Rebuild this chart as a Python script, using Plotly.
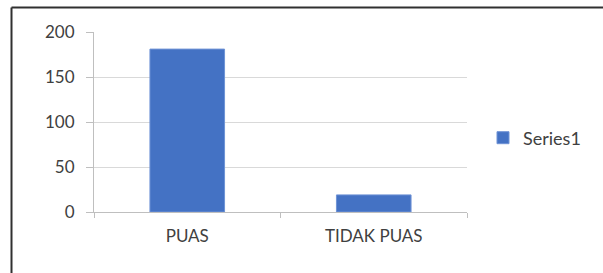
import plotly.graph_objects as go

categories = ["PUAS", "TIDAK PUAS"]
values = [181, 19]
series_name = "Series1"
y_ticks = [0, 50, 100, 150, 200]

W, H = 603, 273
L, R, T, B = 94, 467, 32, 212

def px(x):
    return (x - L) / (R - L)

def py(y):
    return (B - y) / (B - T)

fig = go.Figure()
fig.add_trace(go.Bar(x=categories, y=values, name=series_name,
                     marker=dict(color="#4472C4", line=dict(color="#6f93d6", width=1)),
                     showlegend=True))

font_family = "Lato, Open Sans, sans-serif"
fig.update_layout(
    width=W, height=H,
    margin=dict(l=L, r=W - R, t=T, b=H - B, pad=0),
    paper_bgcolor="white", plot_bgcolor="white",
    bargap=0.6,
    showlegend=True,
    legend=dict(x=px(483), y=py(138), xanchor="left", yanchor="middle",
                font=dict(family=font_family, size=18, color="#404040"),
                itemwidth=30, bgcolor="rgba(0,0,0,0)"),
    xaxis=dict(type="category", showgrid=False, showline=True, linecolor="#bfbfbf",
               linewidth=1, ticks="outside", tickson="boundaries", ticklen=5,
               tickcolor="#bfbfbf", ticklabelstandoff=9,
               tickfont=dict(family=font_family, size=17, color="#404040"),
               fixedrange=True),
    yaxis=dict(range=[0, 200], tickvals=y_ticks, showgrid=True, gridcolor="#d9d9d9",
               gridwidth=1, showline=True, linecolor="#bfbfbf", linewidth=1,
               ticks="outside", ticklen=7, tickcolor="#bfbfbf", ticklabelstandoff=8,
               tickfont=dict(family=font_family, size=17, color="#404040"),
               zeroline=False, fixedrange=True),
    shapes=[
        dict(type="line", xref="paper", yref="paper",
             x0=px(11.5), y0=py(7.5), x1=px(605), y1=py(7.5),
             line=dict(color="#303030", width=2)),
        dict(type="line", xref="paper", yref="paper",
             x0=px(11.5), y0=py(7.5), x1=px(11.5), y1=py(275),
             line=dict(color="#303030", width=2)),
    ],
)

fig.write_html("out.html", config={"displayModeBar": False},
               post_script="document.body.style.margin='0';")
